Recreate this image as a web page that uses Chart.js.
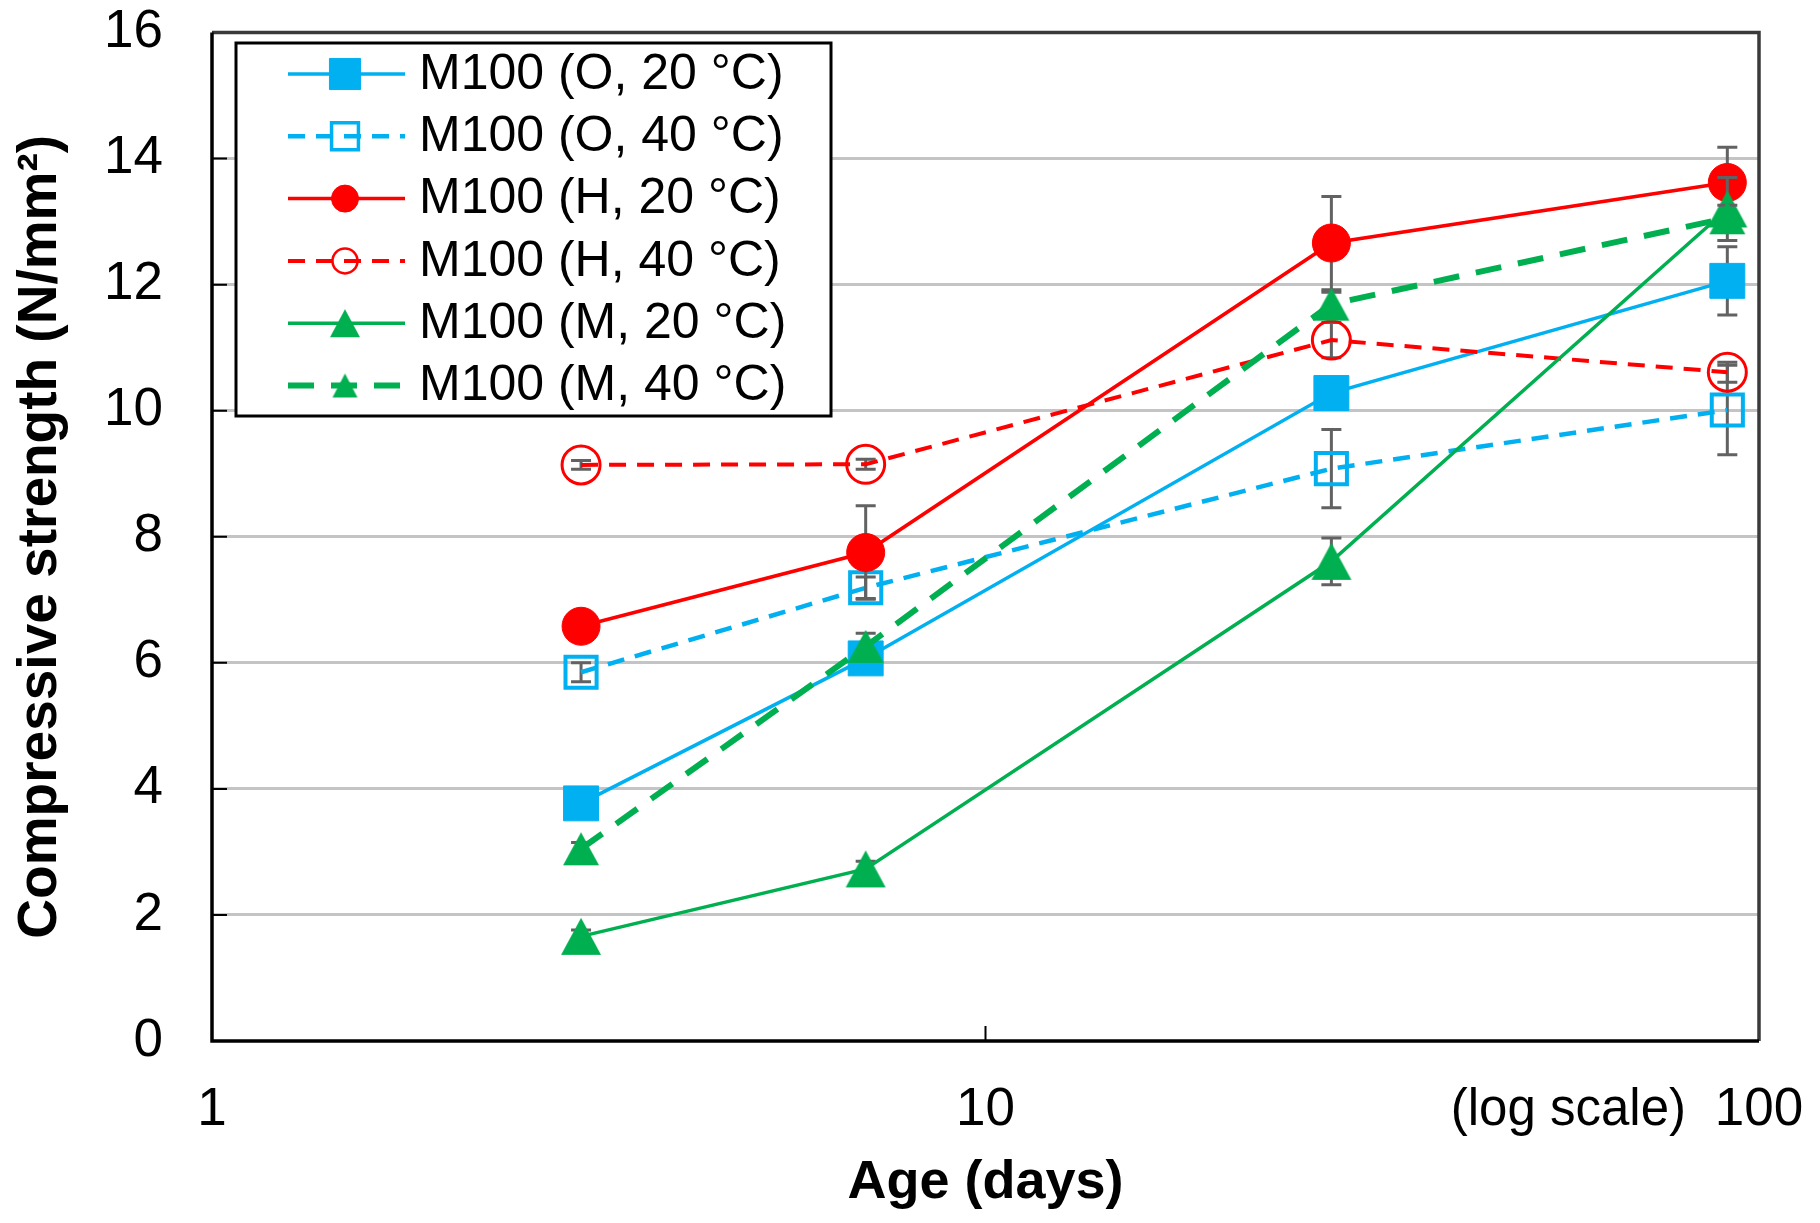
<!DOCTYPE html>
<html>
<head>
<meta charset="utf-8">
<script src="https://cdn.jsdelivr.net/npm/chart.js@4.4.1/dist/chart.umd.min.js"></script>
<style>
html, body { margin: 0; padding: 0; background: #ffffff; }
#wrap { width: 1820px; height: 1223px; }
</style>
</head>
<body>
<div id="wrap"><canvas id="c" width="1820" height="1223"></canvas></div>
<script>
// ---------------- DATA ----------------
const days = [3, 7, 28, 91];
const seriesLabels = [
  'M100 (O, 20 °C)',
  'M100 (O, 40 °C)',
  'M100 (H, 20 °C)',
  'M100 (H, 40 °C)',
  'M100 (M, 20 °C)',
  'M100 (M, 40 °C)'
];
const O20 = [3.77, 6.07, 10.28, 12.06];
const O40 = [5.85, 7.19, 9.08, 10.01];
const H20 = [6.58, 7.75, 12.66, 13.62];
const H40 = [9.14, 9.15, 11.12, 10.61];
const M20 = [1.66, 2.73, 7.61, 13.20];
const M40 = [3.05, 6.26, 11.69, 13.06];

const errO20 = [0.10, 0.10, 0.15, 0.54];
const errO40 = [0.15, 0.17, 0.62, 0.71];
const errH20 = [0.10, 0.74, 0.74, 0.56];
const errH40 = [0.07, 0.08, 0.28, 0.16];
const errM20 = [0.10, 0.12, 0.37, 0.50];
const errM40 = [0.10, 0.21, 0.19, 0.20];

const xTickValues = [1, 10, 100];
const yTickValues = [0, 2, 4, 6, 8, 10, 12, 14, 16];
const xTitle = 'Age (days)';
const yTitle = 'Compressive strength (N/mm²)';
const logNote = '(log scale)';

// ---------------- STYLE ----------------
const FONT = "'Liberation Sans', Arial, Helvetica, sans-serif";
Chart.defaults.font.family = FONT;
Chart.defaults.color = '#000000';

const BLUE = '#00B0F0', RED = '#FF0000', GREEN = '#00B050';
const AREA = { left: 212, top: 32.5, right: 1759, bottom: 1041 };

function makeTri(w, h, color) {
  const c = document.createElement('canvas');
  c.width = Math.ceil(w) + 2; c.height = Math.ceil(h) + 2;
  const g = c.getContext('2d');
  g.fillStyle = color;
  g.beginPath();
  g.moveTo(c.width / 2, 1);
  g.lineTo(c.width - 1, c.height - 1);
  g.lineTo(1, c.height - 1);
  g.closePath();
  g.fill();
  return c;
}
const triM20 = makeTri(40, 37, GREEN);
const triM40 = makeTri(36, 33, GREEN);
const triM20L = makeTri(30, 28, GREEN);
const triM40L = makeTri(25, 24, GREEN);

const valueSets = [O20, O40, H20, H40, M20, M40];
const errSets = [errO20, errO40, errH20, errH40, errM20, errM40];

const styles = [
  { color: BLUE,  width: 3.5, dash: [],       pStyle: 'rect',   r: 24.7, fill: BLUE, pbw: 1,  lStyle: 'rect', lr: 22, lbw: 1 },
  { color: BLUE,  width: 4.5, dash: [17, 11], pStyle: 'rect',   r: 22,   fill: 'rgba(0,0,0,0)', pbw: 4, lStyle: 'rect', lr: 19, lbw: 3.5 },
  { color: RED,   width: 3.5, dash: [],       pStyle: 'circle', r: 19,   fill: RED,  pbw: 1,  lStyle: 'circle', lr: 13.5, lbw: 1 },
  { color: RED,   width: 4,   dash: [17, 11], pStyle: 'circle', r: 19,   fill: 'rgba(0,0,0,0)', pbw: 3, lStyle: 'circle', lr: 12.5, lbw: 2.5 },
  { color: GREEN, width: 3.5, dash: [],       pStyle: triM20,   r: 20,   fill: GREEN, pbw: 0, lStyle: triM20L, lr: 15, lbw: 0 },
  { color: GREEN, width: 6,   dash: [26, 17], pStyle: triM40,   r: 18,   fill: GREEN, pbw: 0, lStyle: triM40L, lr: 12, lbw: 0 }
];

const datasets = valueSets.map((vals, i) => ({
  label: seriesLabels[i],
  data: days.map((d, j) => ({ x: d, y: vals[j] })),
  borderColor: styles[i].color,
  borderWidth: styles[i].width,
  borderDash: styles[i].dash,
  pointStyle: styles[i].pStyle,
  pointRadius: styles[i].r,
  pointHoverRadius: styles[i].r,
  pointBackgroundColor: styles[i].fill,
  pointBorderColor: styles[i].color,
  pointBorderWidth: styles[i].pbw,
  fill: false,
  tension: 0,
  clip: false,
  order: valueSets.length - i
}));

// ---------------- PLUGINS ----------------
const errorBars = {
  id: 'errorBars',
  beforeDatasetDraw(chart, args) {
    const i = args.index;
    const vals = valueSets[i], errs = errSets[i];
    const xs = chart.scales.x, ys = chart.scales.y;
    const ctx = chart.ctx;
    ctx.save();
    ctx.strokeStyle = '#626262';
    ctx.lineWidth = 3;
    ctx.setLineDash([]);
    for (let j = 0; j < days.length; j++) {
      const x = xs.getPixelForValue(days[j]);
      const yt = ys.getPixelForValue(vals[j] + errs[j]);
      const yb = ys.getPixelForValue(vals[j] - errs[j]);
      ctx.beginPath();
      ctx.moveTo(x, yt); ctx.lineTo(x, yb);
      ctx.moveTo(x - 10, yt); ctx.lineTo(x + 10, yt);
      ctx.moveTo(x - 10, yb); ctx.lineTo(x + 10, yb);
      ctx.stroke();
    }
    ctx.restore();
  }
};

const frame = {
  id: 'frame',
  beforeDatasetsDraw(chart) {
    const { ctx, chartArea: a } = chart;
    const xs = chart.scales.x, ys = chart.scales.y;
    ctx.save();
    ctx.setLineDash([]);
    ctx.strokeStyle = '#000';
    ctx.lineWidth = 2;
    ctx.beginPath();
    yTickValues.forEach(v => {
      const y = ys.getPixelForValue(v);
      ctx.moveTo(a.left, y); ctx.lineTo(a.left + 15, y);
    });
    xTickValues.forEach(v => {
      const x = xs.getPixelForValue(v);
      ctx.moveTo(x, a.bottom); ctx.lineTo(x, a.bottom - 15);
    });
    ctx.stroke();
    ctx.strokeStyle = '#3a3a3a';
    ctx.lineWidth = 3.5;
    ctx.beginPath();
    ctx.moveTo(a.left, a.top); ctx.lineTo(a.right, a.top); ctx.lineTo(a.right, a.bottom);
    ctx.stroke();
    ctx.strokeStyle = '#000';
    ctx.lineWidth = 3.5;
    ctx.beginPath();
    ctx.moveTo(a.left, a.top); ctx.lineTo(a.left, a.bottom); ctx.lineTo(a.right, a.bottom);
    ctx.stroke();
    ctx.restore();
  }
};

const legendBox = {
  id: 'legendBox',
  afterDraw(chart) {
    const ctx = chart.ctx;
    const bx = 236, by = 43, bw = 595, bh = 373;
    ctx.save();
    ctx.fillStyle = '#fff';
    ctx.fillRect(bx, by, bw, bh);
    ctx.strokeStyle = '#000';
    ctx.lineWidth = 3;
    ctx.setLineDash([]);
    ctx.strokeRect(bx, by, bw, bh);
    const rowY0 = 74, rowH = 62.3;
    const lx0 = 288, lx1 = 405, mx = 345, tx = 419;
    styles.forEach((s, i) => {
      const y = rowY0 + i * rowH;
      ctx.strokeStyle = s.color;
      ctx.lineWidth = s.width;
      ctx.setLineDash(s.dash);
      ctx.beginPath();
      ctx.moveTo(lx0, y); ctx.lineTo(lx1, y);
      ctx.stroke();
      ctx.setLineDash([]);
      if (typeof s.lStyle === 'string') {
        ctx.fillStyle = s.fill;
        ctx.strokeStyle = s.color;
        ctx.lineWidth = s.lbw;
        ctx.beginPath();
        if (s.lStyle === 'rect') {
          const h = s.lr * Math.SQRT1_2;
          ctx.rect(mx - h, y - h, 2 * h, 2 * h);
        } else {
          ctx.arc(mx, y, s.lr, 0, Math.PI * 2);
        }
        ctx.fill();
        if (s.lbw > 0) ctx.stroke();
      } else {
        Chart.helpers.drawPoint(ctx, { pointStyle: s.lStyle, radius: s.lr, borderWidth: 0, rotation: 0 }, mx, y);
      }
      ctx.fillStyle = '#000';
      ctx.font = '50px ' + FONT;
      ctx.textAlign = 'left';
      ctx.textBaseline = 'middle';
      ctx.fillText(seriesLabels[i], tx, y + 1);
    });
    ctx.font = '51px ' + FONT;
    ctx.textAlign = 'right';
    ctx.textBaseline = 'middle';
    ctx.fillStyle = '#000';
    ctx.fillText(logNote, 1686, chart.chartArea.bottom + 70);
    ctx.restore();
  }
};

// ---------------- CHART ----------------
const chart = new Chart(document.getElementById('c'), {
  type: 'line',
  data: { datasets },
  options: {
    responsive: false,
    animation: false,
    devicePixelRatio: 1,
    layout: { padding: { left: 0, right: 1820 - AREA.right, top: AREA.top, bottom: 0 } },
    plugins: {
      legend: { display: false },
      tooltip: { enabled: false }
    },
    scales: {
      x: {
        type: 'logarithmic',
        position: 'bottom',
        min: 1,
        max: 100,
        grid: { display: false, drawTicks: false },
        border: { display: false },
        afterBuildTicks: (scale) => { scale.ticks = xTickValues.map(v => ({ value: v })); },
        afterFit: (scale) => {
          scale.height = 1223 - AREA.bottom;
          scale.paddingLeft = 0;
          scale.paddingRight = 0;
        },
        ticks: {
          autoSkip: false,
          maxRotation: 0,
          padding: 38,
          color: '#000',
          font: { size: 53 },
          callback: (v) => String(v)
        },
        title: {
          display: true,
          text: xTitle,
          color: '#000',
          font: { size: 54, weight: 'bold' },
          padding: { top: 0, bottom: 7 }
        }
      },
      y: {
        type: 'linear',
        min: 0,
        max: 16,
        afterBuildTicks: (scale) => { scale.ticks = yTickValues.map(v => ({ value: v })); },
        afterFit: (scale) => {
          scale.width = AREA.left;
          scale.paddingTop = 0;
          scale.paddingBottom = 0;
        },
        grid: {
          drawTicks: false,
          lineWidth: 3,
          color: (c) => (c.tick && (c.tick.value === 0 || c.tick.value === 16)) ? 'rgba(0,0,0,0)' : '#c4c4c4'
        },
        border: { display: false },
        ticks: {
          padding: 49,
          color: '#000',
          font: { size: 53 },
          callback: (v) => String(v)
        },
        title: {
          display: true,
          text: yTitle,
          color: '#000',
          font: { size: 55, weight: 'bold' },
          padding: { top: 8, bottom: 0 }
        }
      }
    }
  },
  plugins: [errorBars, frame, legendBox]
});

// Fine-fit the plot area to the reference frame
let pad = { left: 0, right: 1820 - AREA.right, top: AREA.top, bottom: 0 };
for (let k = 0; k < 3; k++) {
  const a = chart.chartArea;
  if (Math.abs(a.top - AREA.top) < 0.5 && Math.abs(a.right - AREA.right) < 0.5) break;
  pad = {
    left: pad.left,
    bottom: pad.bottom,
    top: pad.top - (a.top - AREA.top),
    right: pad.right + (a.right - AREA.right)
  };
  chart.config.options.layout.padding = pad;
  chart.update();
}
</script>
</body>
</html>
